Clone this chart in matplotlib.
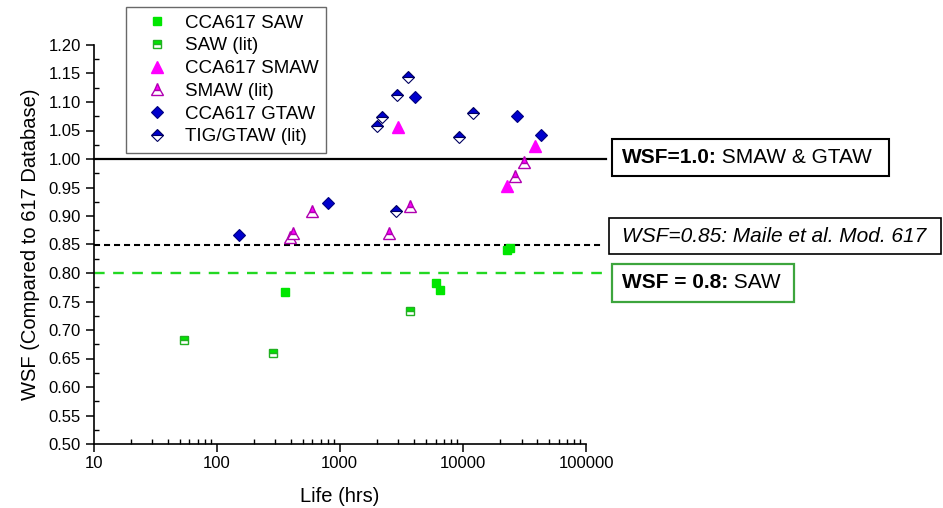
import matplotlib
matplotlib.use("Agg")
import matplotlib.pyplot as plt
from matplotlib.patches import Rectangle
from matplotlib.ticker import FixedLocator, NullFormatter, MultipleLocator, FormatStrFormatter
import matplotlib.transforms as mtransforms

plt.rcParams["font.family"] = ["Liberation Sans", "DejaVu Sans"]

# data (life in hours, WSF)
saw_cca_x = [358, 6030, 6530, 22700, 24000]
saw_cca_y = [0.766, 0.783, 0.770, 0.840, 0.844]
saw_lit_x = [54, 289, 3700]
saw_lit_y = [0.683, 0.660, 0.733]
smaw_cca_x = [2945, 23000, 38400]
smaw_cca_y = [1.057, 0.952, 1.023]
smaw_lit_x = [394, 419, 597, 2500, 3700, 26400, 31400]
smaw_lit_y = [0.864, 0.870, 0.908, 0.871, 0.918, 0.971, 0.995]
gtaw_cca_x = [152, 805, 4070, 27400, 43100]
gtaw_cca_y = [0.867, 0.922, 1.108, 1.076, 1.042]
gtaw_lit_x = [3570, 2900, 2210, 1990, 12000, 9270, 2840]
gtaw_lit_y = [1.144, 1.112, 1.073, 1.058, 1.080, 1.039, 0.908]

x_ticks = [10, 100, 1000, 10000, 100000]
x_ticklabels = ["10", "100", "1000", "10000", "100000"]

GREEN = "#00E600"
MAGENTA = "#FF00FF"
BLUE = "#0000CD"

W, H = 943, 508
fig = plt.figure(figsize=(W / 100, H / 100), dpi=100)
ax = fig.add_axes([93.5 / W, 1 - 444 / H, (586 - 93.5) / W, (444 - 45) / H])


def fx(px):
    return px / W


def fy(py):
    return 1 - py / H


ax.plot(saw_cca_x, saw_cca_y, ls="none", marker="s", ms=6.3, mfc=GREEN, mec=GREEN,
        label="CCA617 SAW", zorder=3)
ax.plot(saw_lit_x, saw_lit_y, ls="none", marker="s", ms=6, fillstyle="top", mfc=GREEN,
        mfcalt="white", mec="#22B022", mew=1, label="SAW (lit)", zorder=3)
ax.plot(smaw_cca_x, smaw_cca_y, ls="none", marker="^", ms=8, mfc=MAGENTA, mec=MAGENTA,
        label="CCA617 SMAW", zorder=3)
ax.plot(smaw_lit_x, smaw_lit_y, ls="none", marker="^", ms=8, fillstyle="top", mfc=MAGENTA,
        mfcalt="white", mec="#B000B0", mew=1, label="SMAW (lit)", zorder=3)
ax.plot(gtaw_cca_x, gtaw_cca_y, ls="none", marker="D", ms=6, mfc=BLUE, mec="#000080",
        mew=0.8, label="CCA617 GTAW", zorder=3)
ax.plot(gtaw_lit_x, gtaw_lit_y, ls="none", marker="D", ms=6, fillstyle="top", mfc=BLUE,
        mfcalt="white", mec="#000060", mew=0.8, label="TIG/GTAW (lit)", zorder=3)

# reference WSF lines running past the axes to the boxes
trans = mtransforms.blended_transform_factory(ax.transAxes, ax.transData)
ax.plot([0, 1.041], [1.0, 1.0], color="black", lw=1.6, transform=trans, clip_on=False, zorder=2)
ax.plot([0, 1.037], [0.85, 0.85], color="black", lw=1.5, dashes=(2.9, 1.9),
        transform=trans, clip_on=False, zorder=2)
ax.plot([0, 1.035], [0.80, 0.80], color="#22D822", lw=1.7, dashes=(4.5, 3.6),
        transform=trans, clip_on=False, zorder=2)

ax.set_xscale("log")
ax.set_xlim(10, 100000)
ax.set_ylim(0.5, 1.2)
ax.xaxis.set_major_locator(FixedLocator(x_ticks))
ax.set_xticklabels(x_ticklabels)
ax.xaxis.set_minor_locator(FixedLocator([m * d for d in x_ticks[:-1] for m in range(2, 10)]))
ax.xaxis.set_minor_formatter(NullFormatter())
ax.yaxis.set_major_locator(MultipleLocator(0.05))
ax.yaxis.set_minor_locator(MultipleLocator(0.025))
ax.yaxis.set_major_formatter(FormatStrFormatter("%.2f"))

for side in ("top", "right"):
    ax.spines[side].set_visible(False)
for side in ("left", "bottom"):
    ax.spines[side].set_linewidth(1.2)
ax.tick_params(which="major", direction="out", length=6, width=1.1, labelsize=12, pad=3)
ax.tick_params(which="minor", direction="in", length=3.5, width=1.0)

ax.set_xlabel("Life (hrs)", fontsize=14.5, labelpad=11)
ax.set_ylabel("WSF (Compared to 617 Database)", fontsize=14.5, labelpad=6)

leg = ax.legend(loc="upper left", bbox_to_anchor=(fx(126), fy(7)), bbox_transform=fig.transFigure,
                fontsize=13.5, numpoints=1, frameon=True, fancybox=False, borderpad=0.4,
                handlelength=2.5, handletextpad=0.25, labelspacing=0.3, borderaxespad=0)
leg.get_frame().set_edgecolor("#444444")
leg.get_frame().set_linewidth(1.0)

# annotation boxes
boxes = [
    (611.5, 139.5, 889, 175.5, "black", 1.5),
    (609, 217.5, 941, 254, "black", 1.2),
    (611.5, 264, 794, 301.5, "#3DA53D", 1.6),
]
for x0, y0, x1, y1, ec, lw in boxes:
    fig.patches.append(Rectangle((fx(x0), fy(y1)), fx(x1) - fx(x0), fy(y0) - fy(y1),
                                 transform=fig.transFigure, fill=False, ec=ec, lw=lw))

t1 = fig.text(fx(621.5), fy(157.5), "WSF=1.0:", fontsize=15, fontweight="bold", va="center")
ax.annotate(" SMAW & GTAW", xy=(1, 0), xycoords=t1, fontsize=15, va="bottom", ha="left",
            annotation_clip=False)
fig.text(fx(621.5), fy(236), "WSF=0.85: Maile et al. Mod. 617", fontsize=15, style="italic",
         va="center")
t3 = fig.text(fx(621.5), fy(283), "WSF = 0.8:", fontsize=15, fontweight="bold", va="center")
ax.annotate(" SAW", xy=(1, 0), xycoords=t3, fontsize=15, va="bottom", ha="left",
            annotation_clip=False)

fig.savefig("out.png", dpi=100)
